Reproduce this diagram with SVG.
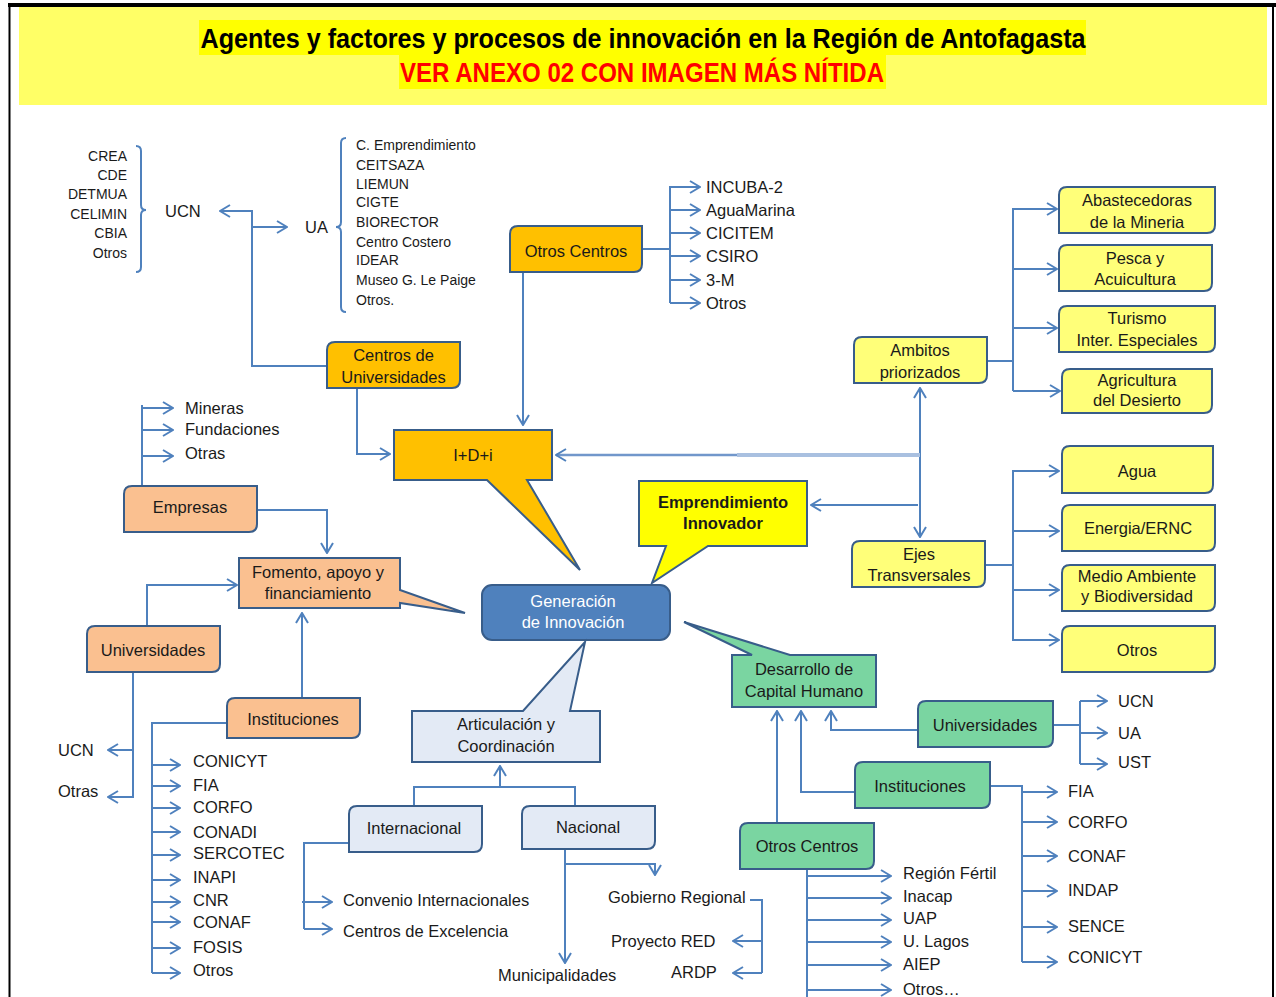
<svg xmlns="http://www.w3.org/2000/svg" width="1276" height="997" viewBox="0 0 1276 997">
<defs>
<marker id="arr" markerUnits="userSpaceOnUse" markerWidth="12" markerHeight="14" viewBox="0 0 12 14" refX="11" refY="7" orient="auto">
<path d="M1,1 L11,7 L1,13" fill="none" stroke="#4F81BD" stroke-width="2"/>
</marker>
</defs>
<style>
.c{fill:none;stroke:#4F81BD;stroke-width:2}
.a{marker-end:url(#arr)}
.t{font-family:"Liberation Sans",Arial,sans-serif;font-size:16.5px;fill:#1a1a1a}
.m{text-anchor:middle}
.e{text-anchor:end}
.s{font-size:14px}
.bx{stroke:#385D8A;stroke-width:2}
.or{fill:#FFC000}.ly{fill:#FFFF79}.by{fill:#FFFF00}.pe{fill:#FAC090}.lb{fill:#E3EAF5}.gr{fill:#7AD5A1}.bl{fill:#4F81BD}
</style>
<rect width="1276" height="997" fill="#fff"/>
<g id="frame">
<line x1="8" y1="5" x2="1276" y2="5" stroke="#000" stroke-width="4"/>
<line x1="9.5" y1="4" x2="9.5" y2="997" stroke="#000" stroke-width="2"/>
<line x1="1273" y1="4" x2="1273" y2="997" stroke="#000" stroke-width="2"/>
</g>
<g id="title">
<rect x="19" y="7" width="1248" height="98" fill="#FFFF66"/>
<rect x="199" y="20" width="887" height="35" fill="#FFFF00"/>
<rect x="399" y="55" width="487" height="34" fill="#FFFF00"/>
<text x="643" y="48" text-anchor="middle" font-family="'Liberation Sans Narrow','Liberation Sans',Arial,sans-serif" font-weight="bold" font-size="27" fill="#000" textLength="885" lengthAdjust="spacingAndGlyphs">Agentes y factores y procesos de innovación en la Región de Antofagasta</text>
<text x="642" y="82" text-anchor="middle" font-family="'Liberation Sans Narrow','Liberation Sans',Arial,sans-serif" font-weight="bold" font-size="28" fill="#FF0000" textLength="484" lengthAdjust="spacingAndGlyphs">VER ANEXO 02 CON IMAGEN MÁS NÍTIDA</text>
</g>

<g id="connectors">
<path class="c" d="M136,146 Q141,146 141,151 V205 Q141,210 146,210 Q141,210 141,215 V267 Q141,272 136,272"/>
<path class="c" d="M346,138 Q341,138 341,143 V222 Q341,227 336,227 Q341,227 341,232 V307 Q341,312 346,312"/>
<path class="c a" d="M327,366 H252 V211 H220"/>
<path class="c a" d="M252,227 H287"/>
<path class="c a" d="M357,388 V454 H390"/>
<path class="c a" d="M523,272 V425"/>
<path class="c" d="M642,249 H670 M670,186 V303"/>
<path class="c a" d="M670,187 H700"/>
<path class="c a" d="M670,210 H700"/>
<path class="c a" d="M670,233 H700"/>
<path class="c a" d="M670,256 H700"/>
<path class="c a" d="M670,280 H700"/>
<path class="c a" d="M670,303 H700"/>
<path class="c" d="M987,361 H1013 M1013,208 V391"/>
<path class="c a" d="M1013,209 H1057"/>
<path class="c a" d="M1013,269 H1057"/>
<path class="c a" d="M1013,328 H1057"/>
<path class="c a" d="M1013,391 H1060"/>
<path class="c" d="M985,565 H1013 M1013,470 V641"/>
<path class="c a" d="M1013,471 H1059"/>
<path class="c a" d="M1013,531 H1059"/>
<path class="c a" d="M1013,590 H1059"/>
<path class="c a" d="M1013,640 H1059"/>
<path class="c a" d="M920,455 V388"/>
<path class="c a" d="M920,455 V537"/>
<path d="M920,455 H737" fill="none" stroke="#A9C0E0" stroke-width="4"/>
<path class="a" d="M737,455 H556" fill="none" stroke="#7197CB" stroke-width="2.5"/>
<path class="c a" d="M918,505 H811"/>
<path class="c" d="M142,486 V405"/>
<path class="c a" d="M142,408 H173"/>
<path class="c a" d="M142,430 H173"/>
<path class="c a" d="M142,456 H173"/>
<path class="c a" d="M257,510 H327 V553"/>
<path class="c a" d="M147,626 V585 H237"/>
<path class="c a" d="M302,698 V613"/>
<path class="c a" d="M133,672 V797 H108"/>
<path class="c a" d="M133,750 H108"/>
<path class="c" d="M227,723 H152 V973"/>
<path class="c a" d="M152,765 H180"/>
<path class="c a" d="M152,786 H180"/>
<path class="c a" d="M152,808 H180"/>
<path class="c a" d="M152,832 H180"/>
<path class="c a" d="M152,855 H180"/>
<path class="c a" d="M152,880 H180"/>
<path class="c a" d="M152,902 H180"/>
<path class="c a" d="M152,922 H180"/>
<path class="c a" d="M152,948 H180"/>
<path class="c a" d="M152,973 H180"/>
<path class="c" d="M414,806 V787 H575 V806"/>
<path class="c a" d="M500,787 V766"/>
<path class="c" d="M349,843 H304 V929"/>
<path class="c a" d="M302,902 H332"/>
<path class="c a" d="M304,929 H332"/>
<path class="c a" d="M565,849 V963"/>
<path class="c a" d="M565,864 H655 V875"/>
<path class="c" d="M750,900 H762 V973"/>
<path class="c a" d="M762,941 H733"/>
<path class="c a" d="M762,973 H733"/>
<path class="c a" d="M918,730 H831 V711"/>
<path class="c a" d="M855,792 H801 V711"/>
<path class="c a" d="M777,823 V711"/>
<path class="c" d="M1053,725 H1080 M1080,701 V764"/>
<path class="c a" d="M1080,701 H1107"/>
<path class="c a" d="M1080,733 H1107"/>
<path class="c a" d="M1080,764 H1107"/>
<path class="c" d="M990,786 H1022 V962"/>
<path class="c a" d="M1022,792 H1057"/>
<path class="c a" d="M1022,822 H1057"/>
<path class="c a" d="M1022,856 H1057"/>
<path class="c a" d="M1022,891 H1057"/>
<path class="c a" d="M1022,927 H1057"/>
<path class="c a" d="M1022,962 H1057"/>
<path class="c" d="M807,869 V997"/>
<path class="c a" d="M807,876 H891"/>
<path class="c a" d="M807,898 H891"/>
<path class="c a" d="M807,920 H891"/>
<path class="c a" d="M807,942 H891"/>
<path class="c a" d="M807,965 H891"/>
<path class="c a" d="M807,990 H891"/>
</g>

<g id="ucn-list">
<text class="t s e" x="127" y="161">CREA</text>
<text class="t s e" x="127" y="180">CDE</text>
<text class="t s e" x="127" y="199">DETMUA</text>
<text class="t s e" x="127" y="219">CELIMIN</text>
<text class="t s e" x="127" y="238">CBIA</text>
<text class="t s e" x="127" y="258">Otros</text>
</g>
<g id="ucn"><text class="t" x="165" y="217">UCN</text></g>
<g id="ua"><text class="t" x="305" y="233">UA</text></g>
<g id="ua-list">
<text class="t s" x="356" y="150">C. Emprendimiento</text>
<text class="t s" x="356" y="170">CEITSAZA</text>
<text class="t s" x="356" y="189">LIEMUN</text>
<text class="t s" x="356" y="207">CIGTE</text>
<text class="t s" x="356" y="227">BIORECTOR</text>
<text class="t s" x="356" y="247">Centro Costero</text>
<text class="t s" x="356" y="265">IDEAR</text>
<text class="t s" x="356" y="285">Museo G. Le Paige</text>
<text class="t s" x="356" y="305">Otros.</text>
</g>

<g id="centros-universidades">
<path class="bx or" d="M335,342 H460 V380 Q460,388 452,388 H327 V350 Q327,342 335,342 Z"/>
<text class="t m" x="393.5" y="361">Centros de</text>
<text class="t m" x="393.5" y="383">Universidades</text>
</g>
<g id="otros-centros-top">
<path class="bx or" d="M518,226 H642 V264 Q642,272 634,272 H510 V234 Q510,226 518,226 Z"/>
<text class="t m" x="576" y="257">Otros Centros</text>
</g>
<g id="otros-centros-list">
<text class="t" x="706" y="193">INCUBA-2</text>
<text class="t" x="706" y="216">AguaMarina</text>
<text class="t" x="706" y="239">CICITEM</text>
<text class="t" x="706" y="262">CSIRO</text>
<text class="t" x="706" y="286">3-M</text>
<text class="t" x="706" y="309">Otros</text>
</g>
<g id="idi">
<path class="bx or" d="M394,430 H552 V480 H527 L580,570 L487,480 H394 Z"/>
<text class="t m" x="473" y="461">I+D+i</text>
</g>

<g id="ambitos">
<path class="bx ly" d="M862,337 H987 V375 Q987,383 979,383 H854 V345 Q854,337 862,337 Z"/>
<text class="t m" x="920" y="356">Ambitos</text>
<text class="t m" x="920" y="378">priorizados</text>
</g>
<g id="abastecedoras">
<path class="bx ly" d="M1067,187 H1215 V225 Q1215,233 1207,233 H1059 V195 Q1059,187 1067,187 Z"/>
<text class="t m" x="1137" y="206">Abastecedoras</text>
<text class="t m" x="1137" y="228">de la Mineria</text>
</g>
<g id="pesca">
<path class="bx ly" d="M1067,245 H1212 V283 Q1212,291 1204,291 H1059 V253 Q1059,245 1067,245 Z"/>
<text class="t m" x="1135" y="264">Pesca y</text>
<text class="t m" x="1135" y="285">Acuicultura</text>
</g>
<g id="turismo">
<path class="bx ly" d="M1067,306 H1215 V344 Q1215,352 1207,352 H1059 V314 Q1059,306 1067,306 Z"/>
<text class="t m" x="1137" y="324">Turismo</text>
<text class="t m" x="1137" y="346">Inter. Especiales</text>
</g>
<g id="agricultura">
<path class="bx ly" d="M1070,369 H1212 V405 Q1212,413 1204,413 H1062 V377 Q1062,369 1070,369 Z"/>
<text class="t m" x="1137" y="386">Agricultura</text>
<text class="t m" x="1137" y="406">del Desierto</text>
</g>
<g id="ejes">
<path class="bx ly" d="M860,541 H985 V579 Q985,587 977,587 H852 V549 Q852,541 860,541 Z"/>
<text class="t m" x="919" y="560">Ejes</text>
<text class="t m" x="919" y="581">Transversales</text>
</g>
<g id="agua">
<path class="bx ly" d="M1070,446 H1213 V485 Q1213,493 1205,493 H1062 V454 Q1062,446 1070,446 Z"/>
<text class="t m" x="1137" y="477">Agua</text>
</g>
<g id="energia">
<path class="bx ly" d="M1070,505 H1215 V543 Q1215,551 1207,551 H1062 V513 Q1062,505 1070,505 Z"/>
<text class="t m" x="1138" y="534">Energia/ERNC</text>
</g>
<g id="medio-ambiente">
<path class="bx ly" d="M1070,565 H1215 V603 Q1215,611 1207,611 H1062 V573 Q1062,565 1070,565 Z"/>
<text class="t m" x="1137" y="582">Medio Ambiente</text>
<text class="t m" x="1137" y="602">y Biodiversidad</text>
</g>
<g id="otros-ejes">
<path class="bx ly" d="M1070,626 H1215 V664 Q1215,672 1207,672 H1062 V634 Q1062,626 1070,626 Z"/>
<text class="t m" x="1137" y="656">Otros</text>
</g>

<g id="emprendimiento">
<path class="bx by" d="M639,481 H807 V546 H708 L652,583 L666,546 H639 Z"/>
<text class="t m" x="723" y="508" font-weight="bold" font-size="15">Emprendimiento</text>
<text class="t m" x="723" y="529" font-weight="bold" font-size="15">Innovador</text>
</g>

<g id="desarrollo">
<path class="bx gr" d="M732,655 H752 L684,622 L790,655 H876 V707 H732 Z"/>
<text class="t m" x="804" y="675">Desarrollo de</text>
<text class="t m" x="804" y="697">Capital Humano</text>
</g>

<g id="generacion">
<rect class="bx bl" x="482" y="585" width="188" height="55" rx="10"/>
<text class="t m" x="573" y="607" fill="#fff" style="fill:#fff">Generación</text>
<text class="t m" x="573" y="628" style="fill:#fff">de Innovación</text>
</g>

<g id="empresas">
<path class="bx pe" d="M132,486 H257 V524 Q257,532 249,532 H124 V494 Q124,486 132,486 Z"/>
<text class="t m" x="190" y="513">Empresas</text>
</g>
<g id="empresas-list">
<text class="t" x="185" y="414">Mineras</text>
<text class="t" x="185" y="435">Fundaciones</text>
<text class="t" x="185" y="459">Otras</text>
</g>
<g id="fomento">
<path class="bx pe" d="M239,558 H400 V590 L465,613 L400,603 V608 H239 Z"/>
<text class="t m" x="318" y="578">Fomento, apoyo y</text>
<text class="t m" x="318" y="599">financiamiento</text>
</g>
<g id="universidades-izq">
<path class="bx pe" d="M95,626 H220 V664 Q220,672 212,672 H87 V634 Q87,626 95,626 Z"/>
<text class="t m" x="153" y="656">Universidades</text>
</g>
<g id="universidades-izq-list">
<text class="t" x="58" y="756">UCN</text>
<text class="t" x="58" y="797">Otras</text>
</g>
<g id="instituciones-izq">
<path class="bx pe" d="M235,698 H360 V730 Q360,738 352,738 H227 V706 Q227,698 235,698 Z"/>
<text class="t m" x="293" y="725">Instituciones</text>
</g>
<g id="instituciones-izq-list">
<text class="t" x="193" y="767">CONICYT</text>
<text class="t" x="193" y="791">FIA</text>
<text class="t" x="193" y="813">CORFO</text>
<text class="t" x="193" y="838">CONADI</text>
<text class="t" x="193" y="859">SERCOTEC</text>
<text class="t" x="193" y="883">INAPI</text>
<text class="t" x="193" y="906">CNR</text>
<text class="t" x="193" y="928">CONAF</text>
<text class="t" x="193" y="953">FOSIS</text>
<text class="t" x="193" y="976">Otros</text>
</g>

<g id="articulacion">
<path class="bx lb" d="M412,711 H523 L585,642 L570,711 H600 V762 H412 Z"/>
<text class="t m" x="506" y="730">Articulación  y</text>
<text class="t m" x="506" y="752">Coordinación</text>
</g>
<g id="internacional">
<path class="bx lb" d="M357,806 H482 V844 Q482,852 474,852 H349 V814 Q349,806 357,806 Z"/>
<text class="t m" x="414" y="834">Internacional</text>
</g>
<g id="internacional-list">
<text class="t" x="343" y="906">Convenio Internacionales</text>
<text class="t" x="343" y="937">Centros de Excelencia</text>
</g>
<g id="nacional">
<path class="bx lb" d="M530,806 H655 V841 Q655,849 647,849 H522 V814 Q522,806 530,806 Z"/>
<text class="t m" x="588" y="833">Nacional</text>
</g>
<g id="nacional-list">
<text class="t" x="608" y="903">Gobierno Regional</text>
<text class="t" x="611" y="947">Proyecto RED</text>
<text class="t" x="671" y="978">ARDP</text>
<text class="t" x="498" y="981">Municipalidades</text>
</g>

<g id="universidades-der">
<path class="bx gr" d="M926,701 H1053 V739 Q1053,747 1045,747 H918 V709 Q918,701 926,701 Z"/>
<text class="t m" x="985" y="731">Universidades</text>
</g>
<g id="universidades-der-list">
<text class="t" x="1118" y="707">UCN</text>
<text class="t" x="1118" y="739">UA</text>
<text class="t" x="1118" y="768">UST</text>
</g>
<g id="instituciones-der">
<path class="bx gr" d="M863,762 H990 V800 Q990,808 982,808 H855 V770 Q855,762 863,762 Z"/>
<text class="t m" x="920" y="792">Instituciones</text>
</g>
<g id="instituciones-der-list">
<text class="t" x="1068" y="797">FIA</text>
<text class="t" x="1068" y="828">CORFO</text>
<text class="t" x="1068" y="862">CONAF</text>
<text class="t" x="1068" y="896">INDAP</text>
<text class="t" x="1068" y="932">SENCE</text>
<text class="t" x="1068" y="963">CONICYT</text>
</g>
<g id="otros-centros-der">
<path class="bx gr" d="M748,823 H874 V861 Q874,869 866,869 H740 V831 Q740,823 748,823 Z"/>
<text class="t m" x="807" y="852">Otros Centros</text>
</g>
<g id="otros-centros-der-list">
<text class="t" x="903" y="879">Región Fértil</text>
<text class="t" x="903" y="902">Inacap</text>
<text class="t" x="903" y="924">UAP</text>
<text class="t" x="903" y="947">U. Lagos</text>
<text class="t" x="903" y="970">AIEP</text>
<text class="t" x="903" y="995">Otros…</text>
</g>
</svg>
